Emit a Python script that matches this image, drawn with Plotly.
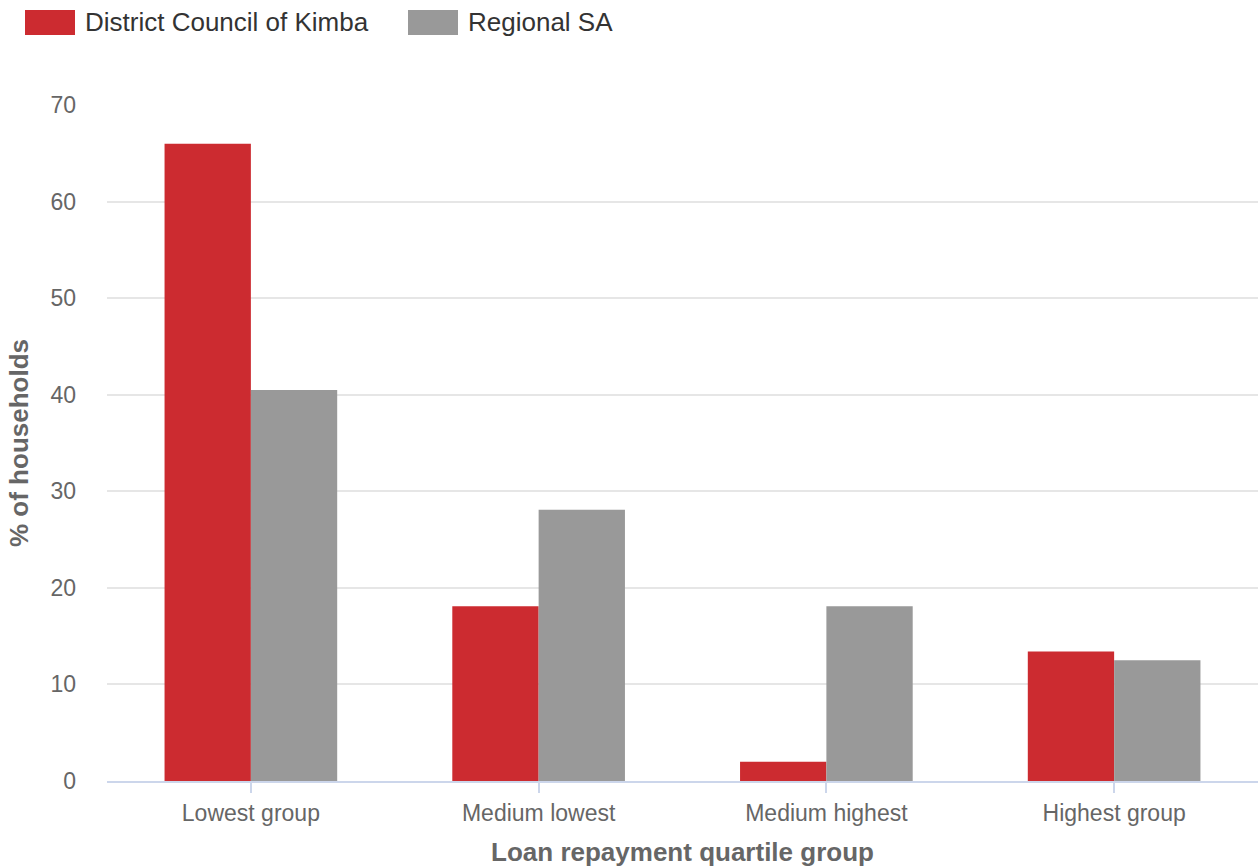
import plotly.graph_objects as go

# Loan repayment quartile groups and share of households (%)
categories = ["Lowest group", "Medium lowest", "Medium highest", "Highest group"]
kimba = [66.0, 18.1, 2.0, 13.4]
regional_sa = [40.5, 28.1, 18.1, 12.5]

series_names = ["District Council of Kimba", "Regional SA"]
series_colors = ["#cc2b30", "#999999"]
y_ticks = [0, 10, 20, 30, 40, 50, 60, 70]

FONT = "Liberation Sans, Arial, sans-serif"

fig = go.Figure()
for name, vals, col in zip(series_names, [kimba, regional_sa], series_colors):
    fig.add_trace(go.Bar(
        x=categories, y=vals, name=name,
        marker=dict(color=col, line=dict(width=0)),
        showlegend=False,
        hovertemplate="%{x}<br>" + name + ": %{y}<extra></extra>",
    ))

fig.update_layout(
    width=1258, height=867,
    margin=dict(l=107, r=0, t=105, b=86),
    paper_bgcolor="white", plot_bgcolor="white",
    barmode="group", bargap=0.4, bargroupgap=0,
    font=dict(family=FONT, color="#666666", size=23),
    xaxis=dict(
        showgrid=False,
        showline=True, linecolor="#ccd6eb", linewidth=2,
        ticks="outside", ticklen=10, tickwidth=2, tickcolor="#ccd6eb",
        tickfont=dict(size=23, color="#666666"),
        title=dict(text="<b>Loan repayment quartile group</b>",
                   font=dict(size=26, color="#666666"), standoff=19),
    ),
    yaxis=dict(
        range=[0, 70], tickvals=y_ticks,
        showgrid=True, gridcolor="#e6e6e6", gridwidth=2,
        zeroline=False, showline=False,
        tickfont=dict(size=23, color="#666666"),
        ticklabelstandoff=30,
        title=dict(text="<b>% of households</b>",
                   font=dict(size=26, color="#666666"), standoff=14),
    ),
)

# Legend drawn as colour swatches with labels above the plot
legend_x = [25, 408]
for i, (name, col) in enumerate(zip(series_names, series_colors)):
    x0 = legend_x[i]
    fig.add_shape(type="rect", xref="paper", yref="paper",
                  x0=(x0 - 107) / 1151, x1=(x0 + 50 - 107) / 1151,
                  y0=1 + (105 - 35) / 676, y1=1 + (105 - 10) / 676,
                  fillcolor=col, line=dict(width=0))
    fig.add_annotation(xref="paper", yref="paper",
                       x=(x0 + 58 - 107) / 1151, y=1 + (105 - 22) / 676,
                       xanchor="left", yanchor="middle", showarrow=False,
                       text=name, font=dict(family=FONT, size=26, color="#333333"))

fig.write_html("out.html")
